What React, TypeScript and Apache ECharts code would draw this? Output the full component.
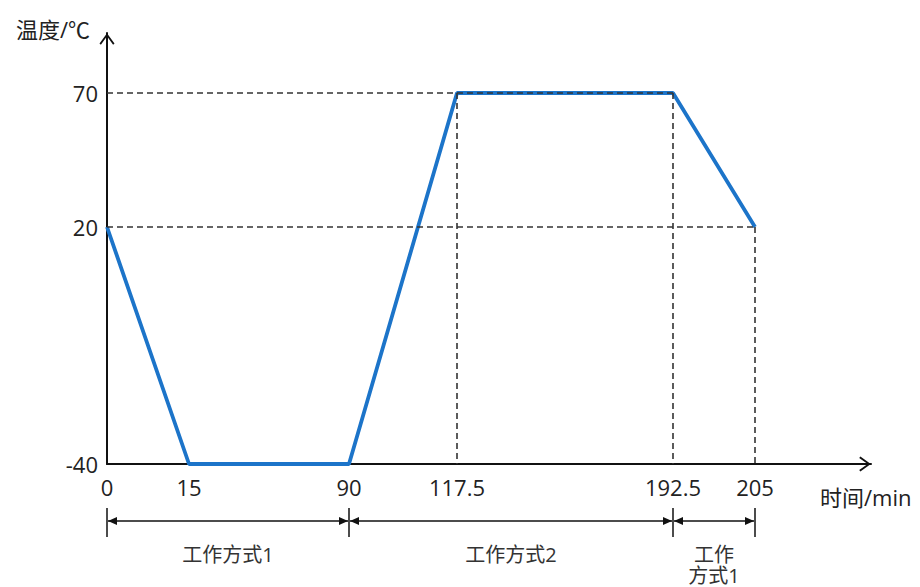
import React, { useEffect, useRef } from 'react';
import * as echarts from 'echarts';

// ---- data ----
const timeTicks = [0, 15, 90, 117.5, 192.5, 205];
const tempTicks = [-40, 20, 70];
const profileTimes = [0, 15, 90, 117.5, 192.5, 205];
const profileTemps = [20, -40, -40, 70, 70, 20];
const modeStarts = [0, 90, 192.5];
const modeEnds = [90, 192.5, 205];
const modeLabels = ['工作方式1', '工作方式2', '工作\n方式1'];
const xAxisName = '时间/min';
const yAxisName = '温度/℃';

// ---- schematic (non-linear) layout of the diagram axes ----
const xSchematic = [0, 82, 242, 350, 566, 648];
const ySchematic = [0, 237, 371];
const X_AXIS_LEN = 764;
const Y_AXIS_LEN = 431;

const FONT = '"Open Sans", "Noto Sans CJK SC", sans-serif';
const INK = '#222';
const CHEVRON = 'path://M0,10.4 L7.5,0 L15,10.4 L13.6,11.6 L7.5,3.1 L1.4,11.6 Z';

function interp(v: number, knots: number[], pos: number[]): number {
  for (let i = 0; i < knots.length - 1; i++) {
    if (v <= knots[i + 1] || i === knots.length - 2) {
      const t = (v - knots[i]) / (knots[i + 1] - knots[i]);
      return pos[i] + t * (pos[i + 1] - pos[i]);
    }
  }
  return pos[0];
}
const toX = (t: number) => interp(t, timeTicks, xSchematic);
const toY = (v: number) => interp(v, tempTicks, ySchematic);

function labelFor(v: number, ticks: number[], map: (n: number) => number): string {
  let best = ticks[0];
  let bd = Infinity;
  ticks.forEach((t) => {
    const d = Math.abs(map(t) - v);
    if (d < bd) { bd = d; best = t; }
  });
  return String(best);
}

export default function App() {
  const ref = useRef<HTMLDivElement>(null);
  useEffect(() => {
    if (!ref.current) return;
    const chart = echarts.init(ref.current, undefined, { renderer: 'svg' });

    const axisLine = {
      show: true,
      onZero: false,
      lineStyle: { color: '#111', width: 2 },
      symbol: ['none', CHEVRON],
      symbolSize: [15, 12],
      symbolOffset: [0, -6],
    };

    // guide lines derived from profile
    const guides: any[] = [];
    [70, 20].forEach((temp) => {
      let last = 0;
      profileTimes.forEach((t, i) => { if (profileTemps[i] === temp) last = t; });
      guides.push([{ coord: [toX(0), toY(temp)] }, { coord: [toX(last), toY(temp)] }]);
    });
    [117.5, 192.5, 205].forEach((t) => {
      const i = profileTimes.indexOf(t);
      guides.push([{ coord: [toX(t), toY(profileTemps[i])] }, { coord: [toX(t), toY(tempTicks[0])] }]);
    });

    chart.setOption({
      animation: false,
      grid: { left: 107, right: 920 - 107 - X_AXIS_LEN, top: 33, bottom: 587 - 33 - Y_AXIS_LEN, outerBoundsMode: 'none' },
      xAxis: {
        type: 'value', min: 0, max: X_AXIS_LEN,
        axisLine, axisTick: { show: false }, splitLine: { show: false },
        axisLabel: {
          customValues: timeTicks.map(toX),
          formatter: (v: number) => labelFor(v, timeTicks, toX),
          margin: 12, fontSize: 22, color: INK, fontFamily: FONT,
        },
      },
      yAxis: {
        type: 'value', min: 0, max: Y_AXIS_LEN,
        axisLine, axisTick: { show: false }, splitLine: { show: false },
        axisLabel: {
          customValues: tempTicks.map(toY),
          formatter: (v: number) => labelFor(v, tempTicks, toY),
          margin: 9, fontSize: 22, color: INK, fontFamily: FONT,
        },
      },
      series: [
        {
          type: 'line', data: [], z: 1, silent: true,
          markLine: {
            silent: true, symbol: ['none', 'none'], label: { show: false },
            lineStyle: { color: '#333', type: [6, 4], width: 1.6 },
            emphasis: { disabled: true },
            data: guides,
          },
        },
        {
          type: 'line', z: 3, symbol: 'none', silent: true,
          data: profileTimes.map((t, i) => [toX(t), toY(profileTemps[i])]),
          lineStyle: { color: '#1C74C9', width: 3.8 },
        },
      ],
    });

    const px = (t: number) => chart.convertToPixel({ xAxisIndex: 0 }, toX(t)) as number;
    const g: any[] = [];
    const yLine = 521;
    const bounds = Array.from(new Set([...modeStarts, ...modeEnds]));
    bounds.forEach((b) => {
      const x = px(b);
      g.push({ type: 'line', shape: { x1: x, y1: 508, x2: x, y2: 537 }, style: { stroke: '#111', lineWidth: 1.5 } });
    });
    modeStarts.forEach((s, i) => {
      const x1 = px(s) + 1;
      const x2 = px(modeEnds[i]) - 1;
      g.push({ type: 'line', shape: { x1, y1: yLine, x2, y2: yLine }, style: { stroke: '#111', lineWidth: 1.5 } });
      g.push({ type: 'polygon', shape: { points: [[x1, yLine], [x1 + 9, yLine - 4], [x1 + 9, yLine + 4]] }, style: { fill: '#111' } });
      g.push({ type: 'polygon', shape: { points: [[x2, yLine], [x2 - 9, yLine - 4], [x2 - 9, yLine + 4]] }, style: { fill: '#111' } });
      g.push({
        type: 'text', x: (x1 + x2) / 2, y: 544,
        style: { text: modeLabels[i], align: 'center', verticalAlign: 'top', fontSize: 20, lineHeight: 21, fontFamily: FONT, fill: '#333' },
      });
    });
    g.push({ type: 'text', x: 820, y: 497, style: { text: xAxisName, align: 'left', verticalAlign: 'middle', fontSize: 22, fontFamily: FONT, fill: INK } });
    g.push({ type: 'text', x: 90, y: 29, style: { text: yAxisName, align: 'right', verticalAlign: 'middle', fontSize: 22, fontFamily: FONT, fill: INK } });
    chart.setOption({ graphic: g });

    return () => chart.dispose();
  }, []);
  return <div ref={ref} style={{ position: 'fixed', left: 0, top: 0, width: 920, height: 587, background: '#fff' }} />;
}
